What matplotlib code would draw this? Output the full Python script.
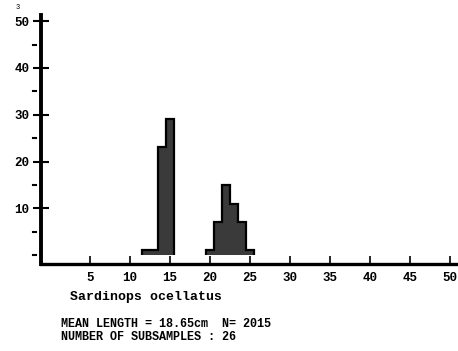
import numpy as np
import matplotlib.pyplot as plt
import matplotlib.transforms as mtransforms

# length classes (cm) and percentage frequency
lengths = [12, 13, 14, 15, 20, 21, 22, 23, 24, 25]
percent = [1, 1, 23, 29, 1, 7, 15, 11, 7, 1]

x_ticks = [5, 10, 15, 20, 25, 30, 35, 40, 45, 50]
y_major = [10, 20, 30, 40, 50]
y_minor = [0, 5, 15, 25, 35, 45]

species = "Sardinops ocellatus"
info_lines = ["MEAN LENGTH = 18.65cm  N= 2015", "NUMBER OF SUBSAMPLES : 26"]

mono = "Liberation Mono"

fig = plt.figure(figsize=(4.58, 3.51), dpi=100)
ax = fig.add_axes([0.0895, 0.248, 0.91, 0.709])

# split into contiguous runs so each block gets a single step outline
runs = []
cur_x, cur_v = [lengths[0]], [percent[0]]
for L, p in zip(lengths[1:], percent[1:]):
    if L == cur_x[-1] + 1:
        cur_x.append(L)
        cur_v.append(p)
    else:
        runs.append((cur_x, cur_v))
        cur_x, cur_v = [L], [p]
runs.append((cur_x, cur_v))

for xs, vs in runs:
    edges = np.append(np.array(xs) - 0.5, xs[-1] + 0.5)
    ax.stairs(vs, edges, fill=True, facecolor="#3a3a3a",
              edgecolor="black", linewidth=1.6, baseline=0)

ax.set_xlim(-1.1, 51)
ax.set_ylim(-1.9, 51.3)

for s in ["top", "right"]:
    ax.spines[s].set_visible(False)
ax.spines["left"].set_linewidth(2.8)
ax.spines["bottom"].set_linewidth(2.4)

ax.set_xticks(x_ticks)
ax.set_xticklabels([str(v) for v in x_ticks], family=mono, fontsize=9, fontweight="bold")
ax.tick_params(axis="x", direction="in", length=6, width=1.2, pad=6)

ax.set_yticks(y_major)
ax.set_yticklabels([str(v) for v in y_major], family=mono, fontsize=9, fontweight="bold")
ax.tick_params(axis="y", direction="inout", length=11, width=1.5, pad=3)

# detached minor dashes left of the y axis
trans = mtransforms.blended_transform_factory(ax.transAxes, ax.transData)
for v in y_minor:
    ax.plot([-0.019, -0.011], [v, v], color="black", lw=1.5,
            transform=trans, clip_on=False)

fig.text(0.039, 0.978, "3", fontsize=5, family=mono, ha="center", va="center")

fig.text(70 / 458, 1 - 297 / 351, species, family=mono, fontsize=9.5,
         fontweight="bold", va="center", ha="left")
fig.text(61 / 458, 1 - 324 / 351, info_lines[0], family=mono, fontsize=8.5,
         fontweight="bold", va="center", ha="left")
fig.text(61 / 458, 1 - 337 / 351, info_lines[1], family=mono, fontsize=8.5,
         fontweight="bold", va="center", ha="left")

fig.savefig("out.png", dpi=100)
